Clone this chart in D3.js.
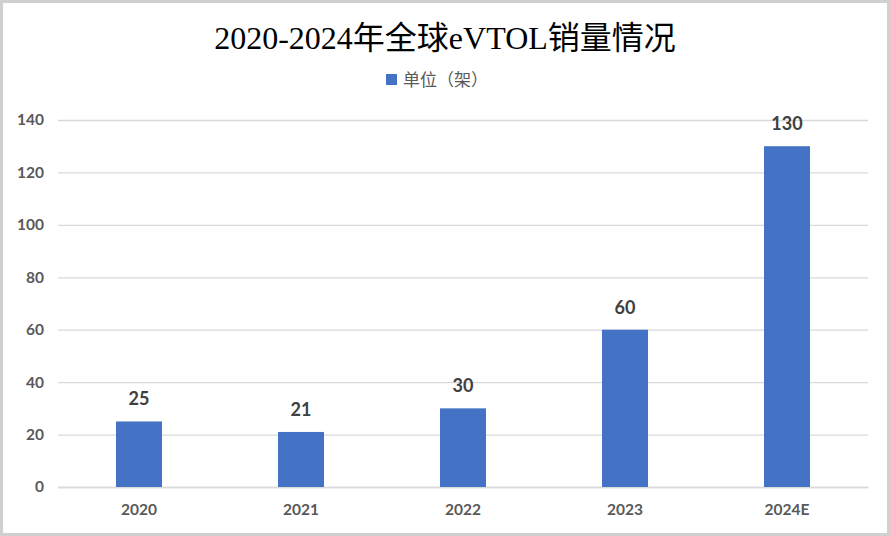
<!DOCTYPE html>
<html><head><meta charset="utf-8">
<script src="https://cdn.jsdelivr.net/npm/d3@7"></script>
<style>html,body{margin:0;padding:0;background:#fff;}</style>
</head><body>
<svg id="c" width="890" height="536"></svg>
<script>
const categories = ["2020","2021","2022","2023","2024E"];
const values = [25,21,30,60,130];
const yTicks = [0,20,40,60,80,100,120,140];
const title = "2020-2024年全球eVTOL销量情况";
const seriesName = "单位（架）";

const svg = d3.select("#c");
const W = 890, H = 536;
svg.append("rect").attr("x",1.5).attr("y",1.5).attr("width",W-3).attr("height",H-3)
  .attr("fill","#fff").attr("stroke","#d0d0d0").attr("stroke-width",3);

const m = {left:58, right:868, top:120, bottom:487};
const x = d3.scaleBand().domain(categories).range([m.left,m.right]).paddingInner(0.716).paddingOuter(0.358);
const y = d3.scaleLinear().domain([0,140]).range([m.bottom,m.top]);

svg.append("text").attr("x",445).attr("y",49).attr("text-anchor","middle")
  .attr("font-family","'Liberation Serif','Noto Sans CJK SC',serif").attr("font-size",32)
  .attr("font-weight","normal").attr("fill","#000").text(title);

const lg = svg.append("g");
lg.append("rect").attr("x",386).attr("y",74).attr("width",11).attr("height",11).attr("fill","#4472C4");
lg.append("text").attr("x",403).attr("y",86).attr("font-family","'Noto Sans CJK SC',sans-serif")
  .attr("font-size",17).attr("fill","#595959").text(seriesName);

const ga = svg.append("g").attr("transform",`translate(${m.left},0)`)
  .call(d3.axisLeft(y).tickValues(yTicks).tickSize(-(m.right-m.left)).tickPadding(14));
ga.select(".domain").remove();
ga.selectAll(".tick line").attr("stroke","#d9d9d9").attr("stroke-width",1.3);
ga.selectAll(".tick text").attr("font-family","Lato,'Open Sans',sans-serif").attr("font-size",15.5)
  .attr("font-weight","bold").attr("fill","#595959");

const gx = svg.append("g").attr("transform",`translate(0,${m.bottom})`)
  .call(d3.axisBottom(x).tickSize(0).tickPadding(17));
gx.select(".domain").attr("stroke","#d9d9d9").attr("stroke-width",1.5);
gx.selectAll(".tick text").attr("font-family","Lato,'Open Sans',sans-serif").attr("font-size",15.5)
  .attr("font-weight","bold").attr("fill","#595959");

svg.selectAll(".bar").data(values).join("rect").attr("class","bar")
  .attr("x",(d,i)=>x(categories[i])).attr("width",x.bandwidth())
  .attr("y",d=>y(d)).attr("height",d=>y(0)-y(d)).attr("fill","#4472C4");

svg.selectAll(".lbl").data(values).join("text").attr("class","lbl")
  .attr("x",(d,i)=>x(categories[i])+x.bandwidth()/2).attr("y",d=>y(d)-16)
  .attr("text-anchor","middle").attr("font-family","Lato,'Open Sans',sans-serif")
  .attr("font-size",18).attr("font-weight","bold").attr("fill","#404040").text(d=>d);
</script>
</body></html>
